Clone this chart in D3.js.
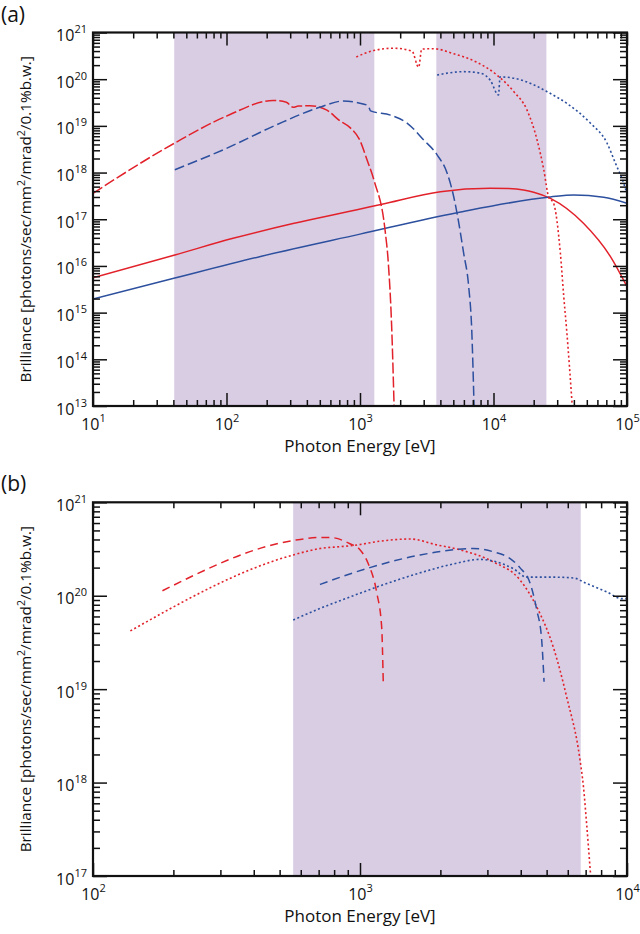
<!DOCTYPE html>
<html>
<head>
<meta charset="utf-8">
<script src="https://cdn.jsdelivr.net/npm/d3@7"></script>
<style>
  body { margin: 0; background: #fff; }
  text { font-family: "Open Sans", sans-serif; }
</style>
</head>
<body>
<script>
var red = "#e2222b";
var blue = "#2c4f9e";
var shadeColor = "#d9cde4";

// ---- panel (a) values: [photon energy eV, brilliance]
var aShades = [[40.6, 1280], [3730, 24900]];
var aRedSolid = [[10, 5.6e15], [41, 1.72e16], [112, 3.9e16], [315, 8.1e16], [950, 1.6e17], [1460, 2.1e17],
  [4000, 3.9e17], [9460, 4.6e17], [13000, 4.55e17], [16800, 4.25e17], [20000, 3.8e17], [26700, 2.8e17],
  [47400, 8.1e16], [75000, 1.6e16], [100000, 3.6e15]];
var aBlueSolid = [[10, 1.95e15], [41, 5.5e15], [177, 1.58e16], [1000, 4.8e16], [5330, 1.38e17], [26700, 3.0e17],
  [39900, 3.3e17], [66800, 2.95e17], [100000, 2.2e17]];
var aRedDash = [[10, 3.6e17], [41, 4.3e18], [100, 1.62e19], [223, 3.5e19], [281, 3.2e19], [315, 2.5e19], [345, 2.65e19],
  [420, 2.7e19], [560, 2.2e19], [705, 1.29e19], [838, 9.3e18], [995, 5.0e18], [1130, 1.86e18], [1280, 6.5e17],
  [1540, 5.9e16], [1630, 1.15e16], [1730, 4.3e14], [1800, 1e13]];
var aBlueDash = [[41, 1.15e18], [100, 3.3e18], [236, 1.05e19], [499, 2.5e19], [746, 3.4e19], [980, 3.1e19],
  [1150, 2.7e19], [1200, 2.1e19], [1690, 1.7e19], [2250, 1.15e19], [3000, 5.0e18], [3780, 2.4e18], [4490, 9.8e17],
  [5040, 3.0e17], [5330, 1.35e17], [5980, 1.86e16], [6520, 3.6e15], [6870, 4.3e14], [7150, 1e13]];
var aRedDot = [[938, 3.0e20], [1265, 4.1e20], [1790, 4.6e20], [2450, 4.0e20], [2750, 1.8e20], [2900, 4.4e20],
  [3560, 4.5e20], [5040, 3.5e20], [7520, 2.3e20], [10600, 1.23e20], [14200, 5.4e19], [17800, 2.2e19], [21200, 5.0e18],
  [23800, 1.15e18], [25900, 3.0e17], [28200, 2.2e17], [31700, 1.86e16], [33600, 2.2e15], [35300, 4.3e14], [38900, 1e13]];
var aBlueDot = [[3780, 1.23e20], [5980, 1.45e20], [7960, 1.35e20], [9460, 9.5e19], [10900, 4.6e19], [11200, 1.12e20],
  [14200, 1.05e20], [20000, 7.6e19], [25200, 5.4e19], [35600, 3.0e19], [53100, 1.15e19], [70800, 4.3e18],
  [81800, 1.6e18], [94400, 5.9e17], [100000, 3.5e17]];
var aXLabels = [1e1, 1e2, 1e3, 1e4, 1e5];
var aYLabels = [1e13, 1e14, 1e15, 1e16, 1e17, 1e18, 1e19, 1e20, 1e21];

// ---- panel (b) values
var bShades = [[562, 6710]];
var bRedDash = [[182, 1.13e20], [562, 3.9e20], [708, 4.2e20], [773, 4.2e20], [917, 3.6e20], [1000, 3.1e20],
  [1074, 2.2e20], [1156, 1.07e20], [1205, 4.7e19], [1222, 1.2e19]];
var bRedDot = [[138, 4.2e19], [562, 2.73e20], [708, 3.2e20], [841, 3.35e20], [944, 3.45e20], [1200, 3.85e20],
  [1540, 4.05e20], [1940, 3.5e20], [2370, 3.1e20], [3160, 2.3e20], [3970, 1.48e20], [4590, 7.6e19], [5300, 2.8e19],
  [5940, 8.3e18], [6670, 1.74e18], [6870, 9.0e17], [7060, 3.6e17], [7310, 1e17]];
var bBlueDash = [[708, 1.32e20], [1089, 2.0e20], [1680, 2.73e20], [2650, 3.2e20], [3160, 2.95e20], [3650, 2.5e20],
  [3970, 2.0e20], [4340, 1.35e20], [4590, 7.1e19], [4790, 3.4e19], [4890, 1.2e19]];
var bBlueDot = [[562, 5.5e19], [708, 7.3e19], [944, 1.0e20], [1260, 1.35e20], [1680, 1.76e20], [2240, 2.19e20],
  [2810, 2.45e20], [3250, 2.3e20], [3750, 1.95e20], [4210, 1.58e20], [5300, 1.58e20], [6300, 1.55e20],
  [7060, 1.35e20], [8400, 1.1e20], [9550, 9.3e19], [10000, 9.3e19]];
var bXLabels = [1e2, 1e3, 1e4];
var bYLabels = [1e17, 1e18, 1e19, 1e20, 1e21];

var svg = d3.select("body").append("svg")
    .attr("width", 640)
    .attr("height", 934);

function expOf(v) { return Math.round(Math.log10(v)); }

function powLabel(sel) {
  sel.text(null).each(function(d) {
    var t = d3.select(this);
    t.append("tspan").text("10");
    t.append("tspan").attr("dy", -8).attr("font-size", 11).text(expOf(d));
  });
}

function drawPanel(p) {
  var x = d3.scaleLog().domain(p.xDomain).range([p.left, p.right]);
  var y = d3.scaleLog().domain(p.yDomain).range([p.bottom, p.top]);
  var g = svg.append("g");

  g.append("clipPath").attr("id", "clip" + p.name)
    .append("rect")
    .attr("x", p.left).attr("y", p.top)
    .attr("width", p.right - p.left).attr("height", p.bottom - p.top);

  g.selectAll("rect.shade")
    .data(p.shades)
    .enter()
    .append("rect")
    .attr("class", "shade")
    .attr("x", d => x(d[0]))
    .attr("width", d => x(d[1]) - x(d[0]))
    .attr("y", p.top)
    .attr("height", p.bottom - p.top)
    .attr("fill", shadeColor);

  var line = d3.line()
    .x(d => x(d[0]))
    .y(d => y(d[1]))
    .curve(d3.curveMonotoneX);

  g.append("g").attr("clip-path", "url(#clip" + p.name + ")")
    .selectAll("path")
    .data(p.series)
    .enter()
    .append("path")
    .attr("d", d => line(d.data))
    .attr("fill", "none")
    .attr("stroke", d => d.color)
    .attr("stroke-width", d => d.width || 1.5)
    .attr("stroke-dasharray", d => d.dash);

  var isMajor = v => Math.abs(Math.log10(v) - Math.round(Math.log10(v))) < 1e-6;
  var xMinor = x.ticks().filter(v => !isMajor(v));
  var yMinor = y.ticks().filter(v => !isMajor(v));

  function ticks(axisFn, scale, pos, values, len) {
    var a = g.append("g")
      .attr("transform", pos)
      .call(axisFn(scale).tickValues(values).tickSize(-len).tickFormat(""));
    a.select(".domain").remove();
    a.selectAll(".tick line").attr("stroke", "#111").attr("stroke-width", 1.5);
    return a;
  }

  ticks(d3.axisBottom, x, "translate(0," + p.bottom + ")", xMinor, 6);
  ticks(d3.axisTop, x, "translate(0," + p.top + ")", xMinor, 6);
  ticks(d3.axisLeft, y, "translate(" + p.left + ",0)", yMinor, 7);
  ticks(d3.axisRight, y, "translate(" + p.right + ",0)", yMinor, 7);
  var bx = ticks(d3.axisBottom, x, "translate(0," + p.bottom + ")", p.xLabels, 13);
  ticks(d3.axisTop, x, "translate(0," + p.top + ")", p.xLabels, 13);
  var ly = ticks(d3.axisLeft, y, "translate(" + p.left + ",0)", p.yLabels, 14);
  ticks(d3.axisRight, y, "translate(" + p.right + ",0)", p.yLabels, 14);

  bx.selectAll(".tick text")
    .attr("y", 24).attr("dy", null)
    .attr("font-size", 16).attr("fill", "#111")
    .attr("font-family", "'Open Sans', sans-serif")
    .call(powLabel);
  ly.selectAll(".tick text")
    .attr("x", -6).attr("y", 8).attr("dy", null)
    .attr("font-size", 16).attr("fill", "#111")
    .attr("font-family", "'Open Sans', sans-serif")
    .call(powLabel);

  g.append("rect")
    .attr("x", p.left).attr("y", p.top)
    .attr("width", p.right - p.left).attr("height", p.bottom - p.top)
    .attr("fill", "none")
    .attr("stroke", "#111")
    .attr("stroke-width", 2.2);

  g.append("text")
    .attr("x", (p.left + p.right) / 2)
    .attr("y", p.bottom + 46)
    .attr("text-anchor", "middle")
    .attr("font-size", 17)
    .attr("fill", "#111")
    .text("Photon Energy [eV]");

  var yl = g.append("text")
    .attr("transform", "translate(31," + ((p.top + p.bottom) / 2) + ") rotate(-90)")
    .attr("text-anchor", "middle")
    .attr("font-size", 15.3)
    .attr("fill", "#111");
  yl.append("tspan").text("Brilliance [photons/sec/mm");
  yl.append("tspan").attr("dy", -6).attr("font-size", 10.5).text("2");
  yl.append("tspan").attr("dy", 6).text("/mrad");
  yl.append("tspan").attr("dy", -6).attr("font-size", 10.5).text("2");
  yl.append("tspan").attr("dy", 6).text("/0.1%b.w.]");

  g.append("text")
    .attr("x", 1)
    .attr("y", p.top - 11)
    .attr("font-size", 21)
    .attr("fill", "#111")
    .text("(" + p.name + ")");
}

drawPanel({
  name: "a",
  left: 93, right: 627, top: 32.5, bottom: 406,
  xDomain: [10, 1e5], yDomain: [1e13, 1e21],
  shades: aShades,
  xLabels: aXLabels, yLabels: aYLabels,
  series: [
    {data: aRedSolid, color: red},
    {data: aBlueSolid, color: blue},
    {data: aRedDash, color: red, dash: "11,3"},
    {data: aBlueDash, color: blue, dash: "10,4"},
    {data: aRedDot, color: red, dash: "2,2.5", width: 1.6},
    {data: aBlueDot, color: blue, dash: "2,2.5", width: 1.6}
  ]
});

drawPanel({
  name: "b",
  left: 93, right: 627, top: 502.3, bottom: 876,
  xDomain: [100, 1e4], yDomain: [1e17, 1e21],
  shades: bShades,
  xLabels: bXLabels, yLabels: bYLabels,
  series: [
    {data: bRedDash, color: red, dash: "8,5"},
    {data: bRedDot, color: red, dash: "2,2.5", width: 1.6},
    {data: bBlueDash, color: blue, dash: "8,5"},
    {data: bBlueDot, color: blue, dash: "2,2.5", width: 1.6}
  ]
});
</script>
</body>
</html>
